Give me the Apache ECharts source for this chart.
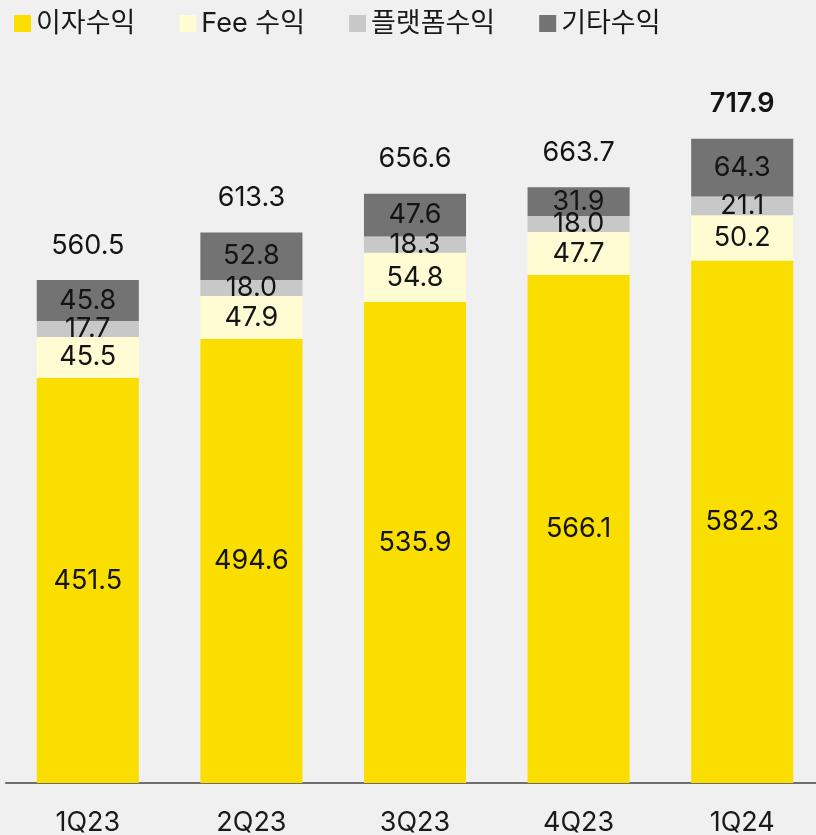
<!DOCTYPE html>
<html lang="ko">
<head>
    <meta charset="UTF-8">
    <title>수익 구성</title>
    <script src="https://cdn.jsdelivr.net/npm/echarts@6/dist/echarts.min.js"></script>
    <style>
        html,body{margin:0;padding:0;background:#f0f0f0;}
        #main{width:816px;height:835px;}
    </style>
</head>
<body>
<div id="main"></div>
<script>
    var FONT='Inter, "Noto Sans CJK KR", sans-serif';
    var quarters=['1Q23','2Q23','3Q23','4Q23','1Q24'];
    var interest=[451.5,494.6,535.9,566.1,582.3];
    var fee=[45.5,47.9,54.8,47.7,50.2];
    var platform=[17.7,18.0,18.3,18.0,21.1];
    var other=[45.8,52.8,47.6,31.9,64.3];
    var totals=[560.5,613.3,656.6,663.7,717.9];

    //각 구간 라벨
    function seg(name,data,color){
        return {
            name:name,
            type:'bar',
            stack:'rev',
            barWidth:'62.4%',
            data:data,
            itemStyle:{color:color},
            label:{
                show:true,
                position:'inside',
                fontFamily:FONT,
                fontSize:27,
                color:'#141414',
                formatter:function(p){return p.value.toFixed(1);}
            }
        };
    }

    var chart=echarts.init(document.getElementById('main'));
    var option={
        backgroundColor:'#f0f0f0',
        animation:false,
        legend:{
            left:9,top:5,
            itemWidth:17,itemHeight:17,
            itemGap:44,
            icon:'rect',
            textStyle:{fontFamily:FONT,fontSize:27,color:'#1a1a1a'},
            data:['이자수익','Fee 수익','플랫폼수익','기타수익']
        },
        grid:{left:6,top:65,width:818,bottom:52,outerBoundsMode:'none'},
        xAxis:{
            type:'category',
            data:quarters,
            axisTick:{show:false},
            axisLine:{lineStyle:{color:'#6e6e6e',width:2}},
            axisLabel:{fontFamily:FONT,fontSize:27,color:'#1a1a1a',margin:26}
        },
        yAxis:{type:'value',min:0,max:800,show:false,splitLine:{show:false}},
        series:[
            seg('이자수익',interest,'#f9de00'),
            seg('Fee 수익',fee,'#fffbd2'),
            seg('플랫폼수익',platform,'#c8c8c8'),
            seg('기타수익',other,'#737373'),
            {
                name:'합계',
                type:'bar',
                barWidth:'62.4%',
                barGap:'-100%',
                z:0,
                data:totals,
                itemStyle:{color:'rgba(0,0,0,0)'},
                label:{
                    show:true,
                    position:'top',
                    distance:21,
                    fontFamily:FONT,
                    fontSize:27,
                    color:'#141414',
                    formatter:function(p){return p.value.toFixed(1);}
                }
            }
        ]
    };
    option.series[4].data=totals.map(function(v,i){
        return i==totals.length-1 ? {value:v,label:{fontWeight:600}} : v;
    });
    chart.setOption(option);
</script>
</body>
</html>
